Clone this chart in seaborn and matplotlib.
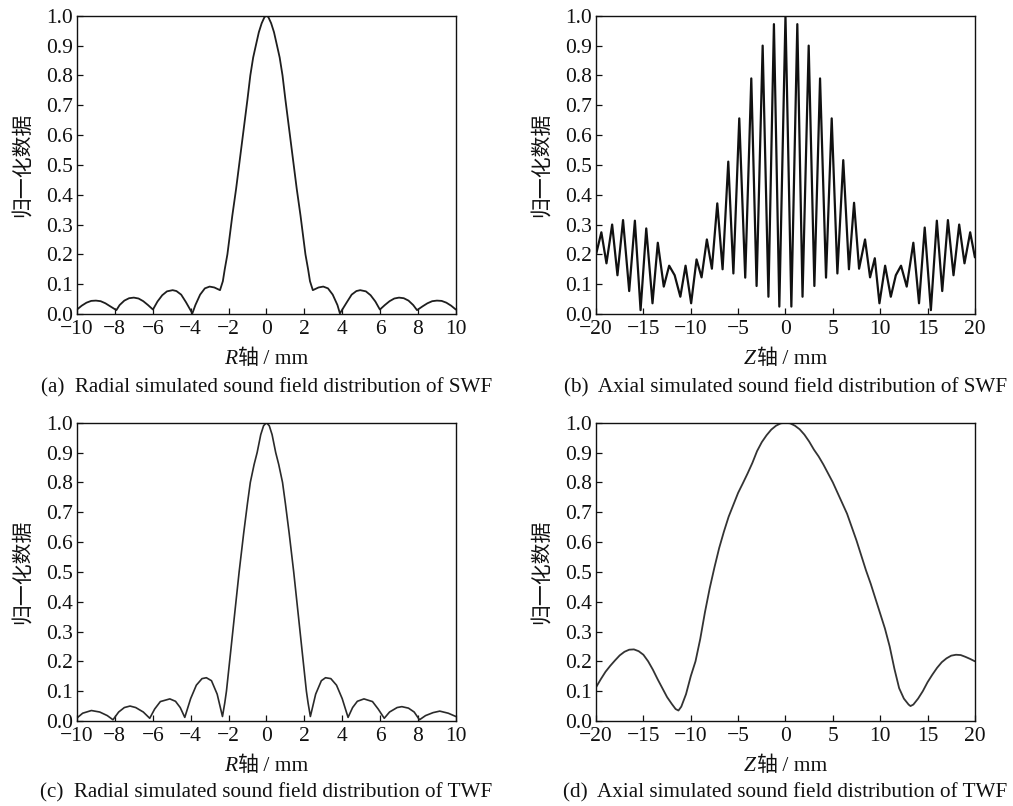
import numpy as np
import matplotlib
matplotlib.use("Agg")
import matplotlib.pyplot as plt
import seaborn as sns
from matplotlib.offsetbox import TextArea, HPacker, AnchoredOffsetbox

# (a) radial field, SWF
R_A = [-10, -9.75, -9.5, -9.25, -9, -8.75, -8.5, -8.25, -7.92, -7.75, -7.5, -7.25, -7, -6.75,
       -6.5, -6.25, -5.99, -5.75, -5.5, -5.25, -4.95, -4.75, -4.5, -4.25, -3.91, -3.75, -3.5,
       -3.25, -3.0, -2.75, -2.45, -2.3, -2.2, -2.06, -1.8, -1.6, -1.44, -1.2, -1.0, -0.85,
       -0.7, -0.56, -0.4, -0.25, -0.1, 0,
       0.1, 0.25, 0.4, 0.56, 0.7, 0.85, 1.0, 1.2, 1.44, 1.6, 1.8, 2.06, 2.2, 2.3, 2.45,
       2.75, 3.0, 3.25, 3.5, 3.75, 3.88, 4.25, 4.5, 4.75, 4.95, 5.25, 5.5, 5.75, 5.99, 6.25,
       6.5, 6.75, 7.0, 7.25, 7.5, 7.75, 7.95, 8.25, 8.5, 8.75, 9.0, 9.25, 9.5, 9.75, 10]
A_VAL = [0.015, 0.028, 0.038, 0.044, 0.045, 0.043, 0.036, 0.026, 0.013, 0.03, 0.045, 0.053,
         0.055, 0.052, 0.043, 0.03, 0.015, 0.042, 0.063, 0.076, 0.08, 0.077, 0.065, 0.04,
         0.002, 0.03, 0.065, 0.086, 0.092, 0.089, 0.08, 0.11, 0.15, 0.2, 0.33, 0.42, 0.5,
         0.62, 0.72, 0.8, 0.86, 0.9, 0.945, 0.975, 0.996, 1.0,
         0.996, 0.975, 0.945, 0.9, 0.86, 0.8, 0.72, 0.62, 0.5, 0.42, 0.33, 0.2, 0.15, 0.11,
         0.08, 0.089, 0.092, 0.086, 0.065, 0.03, 0.002, 0.04, 0.065, 0.077, 0.08, 0.076,
         0.063, 0.042, 0.015, 0.03, 0.043, 0.052, 0.055, 0.053, 0.045, 0.03, 0.013, 0.026,
         0.036, 0.043, 0.045, 0.044, 0.038, 0.028, 0.015]

# (b) axial field, SWF (peaks and troughs)
Z_B = [-20, -19.44, -18.9, -18.3, -17.74, -17.15, -16.5, -15.9, -15.3, -14.7, -14.04, -13.48,
       -12.85, -12.28, -11.7, -11.1, -10.55, -9.96, -9.39, -8.86, -8.3, -7.77, -7.2, -6.64,
       -6.04, -5.5, -4.88, -4.25, -3.61, -3.05, -2.41, -1.8, -1.22, -0.65, 0, 0.62, 1.25,
       1.8, 2.45, 3.05, 3.65, 4.28, 4.88, 5.48, 6.1, 6.7, 7.24, 7.77, 8.4, 8.93, 9.43, 9.92,
       10.52, 11.12, 11.65, 12.2, 12.8, 13.5, 14.1, 14.7, 15.35, 15.98, 16.55, 17.15, 17.74,
       18.34, 18.9, 19.5, 20]
B_VAL = [0.20, 0.274, 0.17, 0.30, 0.13, 0.315, 0.077, 0.313, 0.013, 0.287, 0.036, 0.239,
         0.092, 0.162, 0.13, 0.058, 0.162, 0.036, 0.183, 0.123, 0.25, 0.152, 0.371, 0.15,
         0.511, 0.136, 0.656, 0.122, 0.79, 0.094, 0.9, 0.058, 0.972, 0.025, 1.0, 0.025, 0.972,
         0.058, 0.9, 0.094, 0.79, 0.122, 0.656, 0.136, 0.516, 0.15, 0.373, 0.152, 0.25, 0.123,
         0.187, 0.036, 0.162, 0.058, 0.13, 0.162, 0.092, 0.239, 0.036, 0.29, 0.013, 0.313,
         0.077, 0.315, 0.13, 0.30, 0.17, 0.274, 0.19]

# (c) radial field, TWF
R_C = [-10, -9.7, -9.24, -8.8, -8.4, -8.1, -7.8, -7.5, -7.2, -6.9, -6.5, -6.16, -5.9, -5.6,
       -5.1, -4.8, -4.55, -4.31, -4.0, -3.7, -3.4, -3.17, -2.9, -2.6, -2.32, -2.2, -2.11,
       -1.9, -1.7, -1.44, -1.2, -1.0, -0.85, -0.65, -0.49, -0.3, -0.15, 0,
       0.15, 0.3, 0.49, 0.65, 0.85, 1.0, 1.2, 1.44, 1.7, 1.9, 2.11, 2.2, 2.32, 2.6, 2.9,
       3.12, 3.4, 3.7, 4.0, 4.31, 4.55, 4.8, 5.15, 5.6, 5.9, 6.22, 6.5, 6.9, 7.15, 7.5, 7.8,
       8.08, 8.4, 8.8, 9.15, 9.6, 10]
C_VAL = [0.01, 0.026, 0.035, 0.03, 0.018, 0.004, 0.03, 0.045, 0.05, 0.045, 0.03, 0.009,
         0.04, 0.065, 0.074, 0.066, 0.045, 0.012, 0.075, 0.12, 0.142, 0.145, 0.135, 0.09,
         0.015, 0.06, 0.1, 0.225, 0.345, 0.5, 0.63, 0.73, 0.8, 0.86, 0.9, 0.96, 0.99, 1.0,
         0.99, 0.96, 0.9, 0.86, 0.8, 0.73, 0.63, 0.5, 0.345, 0.225, 0.1, 0.06, 0.015, 0.09,
         0.135, 0.145, 0.142, 0.12, 0.075, 0.012, 0.045, 0.066, 0.074, 0.065, 0.04, 0.009,
         0.03, 0.045, 0.048, 0.043, 0.03, 0.004, 0.018, 0.028, 0.033, 0.026, 0.015]

# (d) axial field, TWF
Z_D = [-20, -19.5, -19, -18.5, -18, -17.5, -17, -16.5, -16, -15.5, -15, -14.5, -14, -13.5,
       -13, -12.5, -12, -11.6, -11.3, -11, -10.5, -10, -9.5, -9, -8.5, -8, -7.5, -7, -6.5,
       -6, -5.5, -5, -4.5, -4, -3.5, -3, -2.5, -2, -1.5, -1, -0.5, 0,
       0.5, 1, 1.5, 2, 2.5, 3, 3.5, 4, 4.5, 5, 5.5, 6, 6.5, 7, 7.5, 8, 8.5, 9, 9.5, 10,
       10.5, 11, 11.5, 12, 12.5, 13, 13.2, 13.5, 14, 14.5, 15, 15.5, 16, 16.5, 17, 17.5,
       18, 18.5, 19, 19.5, 20]
D_VAL = [0.113, 0.14, 0.165, 0.185, 0.203, 0.22, 0.232, 0.239, 0.24, 0.234, 0.222, 0.2,
         0.172, 0.14, 0.11, 0.08, 0.057, 0.04, 0.035, 0.048, 0.09, 0.15, 0.2, 0.275, 0.365,
         0.445, 0.515, 0.58, 0.635, 0.685, 0.725, 0.765, 0.797, 0.83, 0.865, 0.905, 0.935,
         0.958, 0.977, 0.99, 0.998, 1.0,
         0.998, 0.99, 0.978, 0.96, 0.937, 0.91, 0.887, 0.86, 0.83, 0.8, 0.765, 0.73, 0.695,
         0.65, 0.605, 0.555, 0.505, 0.46, 0.41, 0.36, 0.31, 0.25, 0.175, 0.11, 0.075, 0.055,
         0.05, 0.055, 0.075, 0.1, 0.13, 0.155, 0.178, 0.197, 0.21, 0.219, 0.222, 0.221,
         0.215, 0.208, 0.2]

Y_TICKS = [0.0, 0.1, 0.2, 0.3, 0.4, 0.5, 0.6, 0.7, 0.8, 0.9, 1.0]
R_TICKS = [-10, -8, -6, -4, -2, 0, 2, 4, 6, 8, 10]
Z_TICKS = [-20, -15, -10, -5, 0, 5, 10, 15, 20]

CAPTIONS = ["(a)  Radial simulated sound field distribution of SWF",
            "(b)  Axial simulated sound field distribution of SWF",
            "(c)  Radial simulated sound field distribution of TWF",
            "(d)  Axial simulated sound field distribution of TWF"]
YLABEL = "归一化数据"

sns.set_theme(style="ticks")
plt.rcParams['font.family'] = ['Liberation Serif', 'Noto Sans CJK SC']
plt.rcParams['axes.unicode_minus'] = True

TICK_FS = 15.5
LAB_FS = 15
CAP_FS = 15.2
INK = '#111111'
fig = plt.figure(figsize=(10.13, 8.06), dpi=100)

W, H = 0.374, 0.370
positions = [(0.076, 0.6104), (0.5884, 0.6104), (0.076, 0.1055), (0.5884, 0.1055)]
panels = [(R_A, A_VAL, R_TICKS, "R", '#1e1e1e', 1.3),
          (Z_B, B_VAL, Z_TICKS, "Z", '#111111', 1.6),
          (R_C, C_VAL, R_TICKS, "R", '#2a2a2a', 1.2),
          (Z_D, D_VAL, Z_TICKS, "Z", '#333333', 1.3)]

for i, ((xs, ys, xt, axname, col, lw), (l, b)) in enumerate(zip(panels, positions)):
    ax = fig.add_axes([l, b, W, H])
    sns.lineplot(x=xs, y=ys, ax=ax, color=col, linewidth=lw, estimator=None, sort=False)
    ax.set_xlim(xt[0], xt[-1])
    ax.set_ylim(0, 1.0)
    ax.set_xticks(xt)
    ax.set_yticks(Y_TICKS)
    ax.set_yticklabels([f"{v:.1f}" for v in Y_TICKS])
    ax.tick_params(direction='in', length=4, width=0.9, colors=INK,
                   labelsize=TICK_FS, top=False, right=False)
    ax.tick_params(axis='x', pad=4)
    ax.tick_params(axis='y', pad=3)
    for sp in ax.spines.values():
        sp.set_visible(True)
        sp.set_linewidth(1.0)
        sp.set_color(INK)

    ax.set_ylabel(YLABEL, fontsize=LAB_FS, color=INK)
    ax.yaxis.set_label_coords(-0.116, 0.5)

    # x label: italic axis letter + CJK + unit
    parts = [TextArea(axname, textprops=dict(fontsize=LAB_FS + 0.5, style='italic',
                                              family='Liberation Serif', color=INK)),
             TextArea("轴", textprops=dict(fontsize=LAB_FS, family='Noto Sans CJK SC',
                                           color=INK)),
             TextArea(" / mm", textprops=dict(fontsize=LAB_FS + 0.5, family='Liberation Serif',
                                              color=INK))]
    box = HPacker(children=parts, align='baseline', pad=0, sep=0)
    anch = AnchoredOffsetbox(loc='center', child=box, pad=0, borderpad=0, frameon=False,
                             bbox_to_anchor=(0.5, -0.146), bbox_transform=ax.transAxes)
    ax.add_artist(anch)

    cy = 0.519 if i < 2 else 0.016
    fig.text(l + W / 2, cy, CAPTIONS[i], ha='center', va='center', fontsize=CAP_FS,
             color=INK)

fig.savefig("out.png", dpi=100)
